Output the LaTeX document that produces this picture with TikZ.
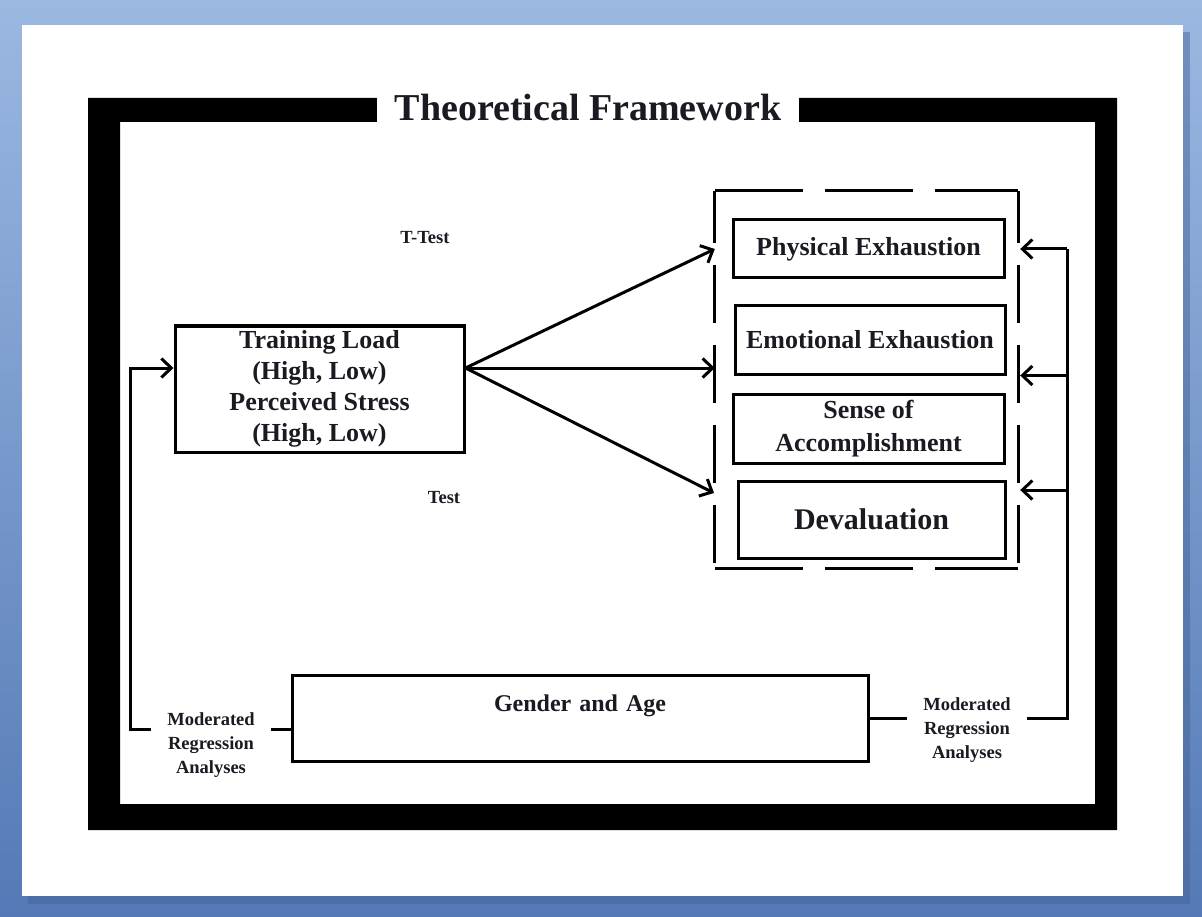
\documentclass[tikz,border=0pt]{standalone}
\usepackage{fontspec}
\setmainfont{Liberation Serif}
\usetikzlibrary{arrows.meta}
\definecolor{slideblue}{HTML}{9BB8E1}
\definecolor{slidedark}{HTML}{5479B6}
\definecolor{textblack}{HTML}{1A1A22}

\tikzset{
    stagebox/.style={draw, line width=3pt, align=center, inner sep=0pt,
        font=\fontsize{26}{31}\selectfont\bfseries, text=textblack},
    smalltext/.style={align=center, inner xsep=16pt, inner ysep=2pt,
        font=\fontsize{18.5}{24}\selectfont\bfseries, text=textblack},
    link/.style={line width=3pt},
    arr/.style={line width=3pt, -{Straight Barb[length=10pt,width=19pt]}},
    groupline/.style={line width=3pt}
}

\begin{document}
\begin{tikzpicture}[x=1pt, y=-1pt]
    \useasboundingbox (0,0) rectangle (1202,917);
    \shade[top color=slideblue, bottom color=slidedark] (0,0) rectangle (1202,917);
    \fill[slidedark!80!black, opacity=0.45] (28,32) rectangle (1190,904);
    \fill[white] (22,25) rectangle (1183,896);

    % frame
    \fill[black, even odd rule] (88,98) rectangle (1117,830) (120,122) rectangle (1095,804);
    \node[fill=white, minimum width=422pt, minimum height=40pt, inner sep=0pt,
          font=\fontsize{38}{42}\selectfont\bfseries, text=textblack] (title) at (588,108) {Theoretical Framework};

    \node[stagebox, minimum width=289pt, minimum height=126pt] (load) at (319.5,389)
        {Training Load\\(High, Low)\\Perceived Stress\\(High, Low)};

    \node[minimum width=303pt, minimum height=377pt, inner sep=0pt] (outcomes) at (866.5,379.5) {};
    \draw[groupline, dash pattern=on 88pt off 22pt] (outcomes.north west) -- (outcomes.north east);
    \draw[groupline, dash pattern=on 88pt off 22pt] (outcomes.south west) -- (outcomes.south east);
    \draw[groupline, dash pattern=on 58pt off 22pt, dash phase=6pt] (outcomes.north west) -- (outcomes.south west);
    \draw[groupline, dash pattern=on 58pt off 22pt, dash phase=6pt] (outcomes.north east) -- (outcomes.south east);

    \node[stagebox, minimum width=271pt, minimum height=58pt] (phys) at (868.5,249) {Physical Exhaustion};
    \node[stagebox, minimum width=270pt, minimum height=68pt] (emo) at (870,340) {Emotional Exhaustion};
    \node[stagebox, minimum width=271pt, minimum height=69pt, font=\fontsize{26}{33}\selectfont\bfseries] (sense) at (868.5,428.5) {Sense of\\Accomplishment};
    \node[stagebox, minimum width=267pt, minimum height=77pt, font=\fontsize{30}{34}\selectfont\bfseries] (deval) at (871.5,519.5) {Devaluation};

    \node[smalltext] (ttest) at (425,238) {T-Test};
    \node[smalltext] (test) at (444,498) {Test};

    \node[stagebox, minimum width=576pt, text height=32pt, text depth=46pt, inner ysep=4pt,
          text width=570pt, font=\fontsize{24}{30}\selectfont\bfseries] (gender) at (580,718) {Gender and Age};
    \node[smalltext] (modL) at (211,745) {Moderated\\Regression\\Analyses};
    \node[smalltext] (modR) at (967,730) {Moderated\\Regression\\Analyses};

    \coordinate (fork) at ([yshift=21pt]load.east);
    \coordinate (inD) at (714,493);
    \coordinate (loopL) at (130,729);
    \coordinate (rail) at (1067,718);

    \draw[arr] (fork) -- (outcomes.west |- phys);
    \draw[arr] (fork) -- (outcomes.west |- fork);
    \draw[arr] (fork) -- (inD);

    \draw[link] (gender.west |- loopL) -- (modL.east |- loopL);
    \draw[arr] (modL.west |- loopL) -- (loopL) -- (loopL |- fork) -- (load.west |- fork);

    \draw[link] (gender.east) -- (modR.west |- gender.east);
    \draw[link] (modR.east |- rail) -- (rail) -- (rail |- phys);
    \draw[arr] (rail |- phys) -- ([xshift=2pt]outcomes.east |- phys);
    \draw[arr] (rail |- emo.south) -- ([xshift=2pt]outcomes.east |- emo.south);
    \draw[arr] (rail |- 0,490) -- ([xshift=2pt]outcomes.east |- 0,490);
\end{tikzpicture}
\end{document}
